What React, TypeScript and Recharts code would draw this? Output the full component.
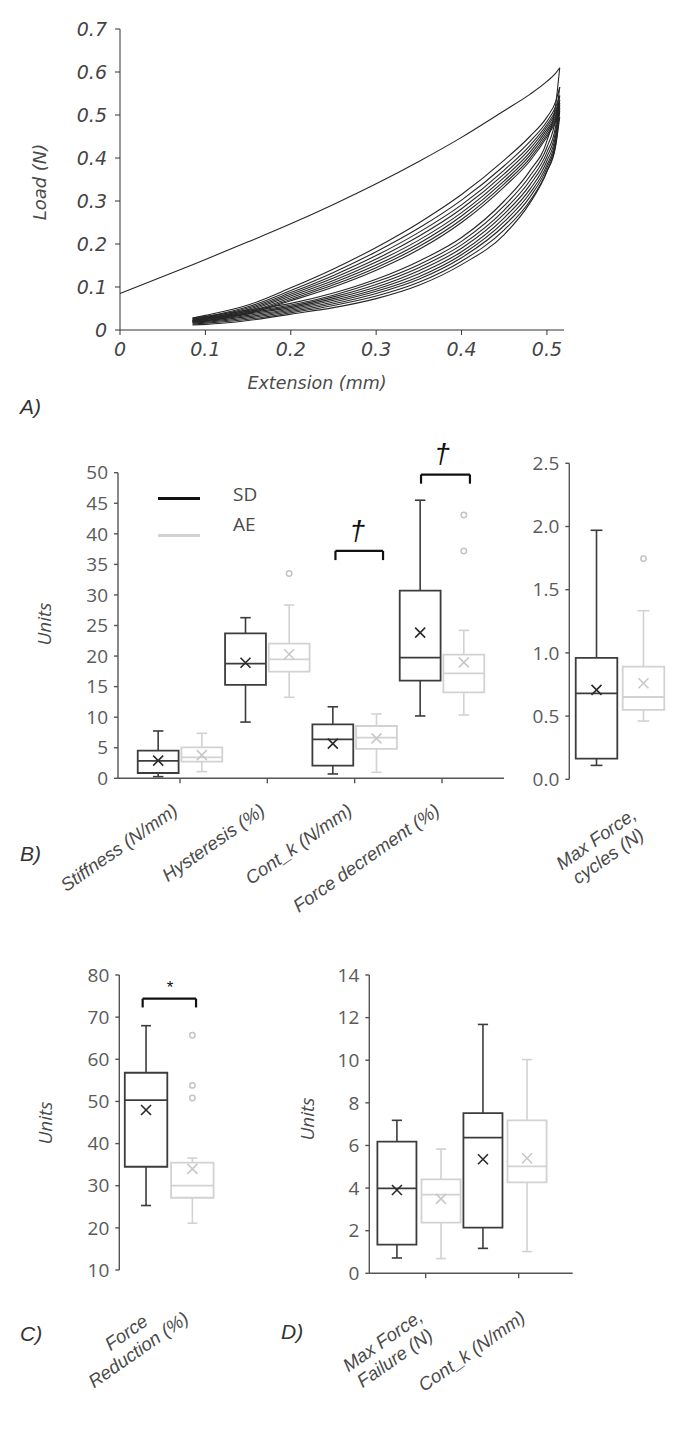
import React from "react";
import {
  LineChart, Line, ScatterChart, Scatter, XAxis, YAxis,
  ReferenceArea, ReferenceLine, ReferenceDot,
} from "recharts";

// ---------- A) load vs extension, cyclic test ----------
const EXT = [0, 0.085, 0.1, 0.15, 0.2, 0.25, 0.3, 0.35, 0.4, 0.45, 0.48, 0.5, 0.51, 0.515];
const EXT_TICKS = [0, 0.1, 0.2, 0.3, 0.4, 0.5];
const LOAD_TICKS = [0, 0.1, 0.2, 0.3, 0.4, 0.5, 0.6, 0.7];
// first loading ramp starts at zero extension
const FIRST_LOADING = [0.085, 0.152, 0.164, 0.205, 0.247, 0.292, 0.34, 0.392, 0.448, 0.51, 0.548, 0.578, 0.597, 0.61];
// later cycles, from 0.085 mm onward
const LOADING = [
  [0.028, 0.034, 0.058, 0.098, 0.142, 0.192, 0.249, 0.315, 0.395, 0.450, 0.495, 0.530, 0.565],
  [0.026, 0.031, 0.054, 0.092, 0.134, 0.182, 0.237, 0.302, 0.382, 0.438, 0.485, 0.518, 0.545],
  [0.024, 0.029, 0.051, 0.087, 0.127, 0.173, 0.227, 0.291, 0.372, 0.429, 0.478, 0.510, 0.535],
  [0.022, 0.027, 0.048, 0.083, 0.121, 0.165, 0.218, 0.282, 0.363, 0.421, 0.472, 0.504, 0.528],
  [0.021, 0.025, 0.045, 0.079, 0.115, 0.158, 0.209, 0.273, 0.355, 0.413, 0.466, 0.498, 0.522],
  [0.020, 0.024, 0.042, 0.075, 0.110, 0.151, 0.201, 0.265, 0.347, 0.406, 0.460, 0.493, 0.516],
  [0.019, 0.022, 0.040, 0.071, 0.105, 0.145, 0.194, 0.257, 0.340, 0.399, 0.454, 0.488, 0.510],
  [0.018, 0.021, 0.038, 0.068, 0.100, 0.139, 0.187, 0.250, 0.333, 0.393, 0.449, 0.483, 0.505],
];
const UNLOADING = [
  [0.028, 0.032, 0.046, 0.062, 0.086, 0.118, 0.160, 0.215, 0.300, 0.370, 0.440, 0.520, 0.610],
  [0.026, 0.029, 0.043, 0.058, 0.081, 0.112, 0.152, 0.206, 0.289, 0.358, 0.425, 0.490, 0.565],
  [0.024, 0.027, 0.040, 0.055, 0.077, 0.106, 0.145, 0.198, 0.279, 0.347, 0.413, 0.472, 0.545],
  [0.022, 0.025, 0.037, 0.052, 0.073, 0.100, 0.138, 0.190, 0.270, 0.337, 0.403, 0.460, 0.535],
  [0.020, 0.022, 0.034, 0.049, 0.069, 0.095, 0.131, 0.182, 0.261, 0.327, 0.393, 0.450, 0.528],
  [0.018, 0.020, 0.031, 0.046, 0.065, 0.090, 0.124, 0.175, 0.252, 0.318, 0.384, 0.441, 0.522],
  [0.016, 0.018, 0.028, 0.043, 0.061, 0.085, 0.118, 0.168, 0.243, 0.309, 0.377, 0.434, 0.516],
  [0.014, 0.016, 0.025, 0.040, 0.057, 0.079, 0.111, 0.160, 0.233, 0.300, 0.370, 0.428, 0.510],
  [0.012, 0.013, 0.022, 0.037, 0.052, 0.073, 0.104, 0.152, 0.222, 0.295, 0.368, 0.425, 0.495],
];

// ---------- B) cyclic parameters ----------
const B_LABELS = [["Stiffness (N/mm)"], ["Hysteresis (%)"], ["Cont_k (N/mm)"], ["Force decrement (%)"]];
const B_TICKS = [0, 5, 10, 15, 20, 25, 30, 35, 40, 45, 50];
const B_SD_MIN = [0.27, 9.2, 0.71, 10.2];
const B_SD_Q1 = [0.87, 15.27, 2.07, 15.98];
const B_SD_MED = [2.84, 18.76, 6.38, 19.74];
const B_SD_Q3 = [4.53, 23.72, 8.83, 30.7];
const B_SD_MAX = [7.74, 26.28, 11.7, 45.5];
const B_SD_MEAN = [2.9, 18.9, 5.67, 23.83];
const B_AE_MIN = [1.09, 13.25, 0.98, 10.36];
const B_AE_Q1 = [2.73, 17.45, 4.8, 14.07];
const B_AE_MED = [3.43, 19.47, 6.65, 17.18];
const B_AE_Q3 = [5.07, 22.03, 8.56, 20.23];
const B_AE_MAX = [7.36, 28.35, 10.52, 24.2];
const B_AE_MEAN = [3.8, 20.3, 6.54, 18.97];
const B_AE_OUT = [[], [33.5], [], [43.07, 37.19]];

const CYC_LABELS = [["Max Force,", "cycles (N)"]];
const CYC_TICKS = [0, 0.5, 1, 1.5, 2, 2.5];
const CYC_SD = { min: [0.11], q1: [0.164], med: [0.68], q3: [0.96], max: [1.97], mean: [0.707], out: [[]] };
const CYC_AE = { min: [0.461], q1: [0.549], med: [0.651], q3: [0.891], max: [1.334], mean: [0.76], out: [[1.746]] };

// ---------- C) force reduction ----------
const C_LABELS = [["Force", "Reduction (%)"]];
const C_TICKS = [10, 20, 30, 40, 50, 60, 70, 80];
const C_SD = { min: [25.3], q1: [34.5], med: [50.3], q3: [56.8], max: [67.97], mean: [47.96], out: [[]] };
const C_AE = { min: [21.1], q1: [27.15], med: [30.0], q3: [35.5], max: [36.57], mean: [34.0], out: [[65.7, 53.8, 50.8]] };

// ---------- D) failure test ----------
const D_LABELS = [["Max Force,", "Failure (N)"], ["Cont_k (N/mm)"]];
const D_TICKS = [0, 2, 4, 6, 8, 10, 12, 14];
const D_SD_MIN = [0.72, 1.17];
const D_SD_Q1 = [1.35, 2.14];
const D_SD_MED = [3.99, 6.37];
const D_SD_Q3 = [6.18, 7.52];
const D_SD_MAX = [7.18, 11.68];
const D_SD_MEAN = [3.91, 5.35];
const D_AE_MIN = [0.69, 1.02];
const D_AE_Q1 = [2.38, 4.27];
const D_AE_MED = [3.69, 5.02];
const D_AE_Q3 = [4.41, 7.18];
const D_AE_MAX = [5.83, 10.03];
const D_AE_MEAN = [3.49, 5.4];

const SD_COLOR = "#3c3c3c";
const AE_COLOR = "#d2d2d2";
const TXT = "#4a4a4a";
const NUM_FONT = "'Open Sans', sans-serif";
const IT_FONT = "'Liberation Sans', Arial, sans-serif";
const A_FONT = "'DejaVu Sans', sans-serif";

type Stats = { min: number[]; q1: number[]; med: number[]; q3: number[]; max: number[]; mean: number[]; out: number[][] };

const B_SD: Stats = { min: B_SD_MIN, q1: B_SD_Q1, med: B_SD_MED, q3: B_SD_Q3, max: B_SD_MAX, mean: B_SD_MEAN, out: [[], [], [], []] };
const B_AE: Stats = { min: B_AE_MIN, q1: B_AE_Q1, med: B_AE_MED, q3: B_AE_Q3, max: B_AE_MAX, mean: B_AE_MEAN, out: B_AE_OUT };
const D_SD: Stats = { min: D_SD_MIN, q1: D_SD_Q1, med: D_SD_MED, q3: D_SD_Q3, max: D_SD_MAX, mean: D_SD_MEAN, out: [[], []] };
const D_AE: Stats = { min: D_AE_MIN, q1: D_AE_Q1, med: D_AE_MED, q3: D_AE_Q3, max: D_AE_MAX, mean: D_AE_MEAN, out: [[], []] };

const loopRows = EXT.map((x, i) => {
  const row: Record<string, number | null> = { x, first: FIRST_LOADING[i] };
  LOADING.forEach((c, k) => { row[`l${k}`] = i === 0 ? null : c[i - 1]; });
  UNLOADING.forEach((c, k) => { row[`u${k}`] = i === 0 ? null : c[i - 1]; });
  return row;
});
const loopKeys = ["first", ...LOADING.map((_, k) => `l${k}`), ...UNLOADING.map((_, k) => `u${k}`)];

type TickPos = { dx: number; dy: number; anchor: "end" | "middle" };

const makeTick = (labels: string[][], pos: TickPos[]) => (props: any) => {
  const { x, y, payload } = props;
  const i = Math.round(payload.value);
  const lines = labels[i];
  const p = pos[i];
  if (!lines) return null;
  const ax = x + p.dx;
  const ay = y + p.dy;
  const lh = 21;
  const y0 = ay - ((lines.length - 1) * lh) / 2;
  return (
    <text transform={`rotate(-35 ${ax} ${ay})`} textAnchor={p.anchor} fontFamily={IT_FONT}
      fontStyle="italic" fontSize={18.5} fill={TXT}>
      {lines.map((l, k) => (
        <tspan key={k} x={ax} y={lines.length > 1 ? y0 + k * lh : ay}
          dominantBaseline={lines.length > 1 ? "central" : "auto"}>{l}</tspan>
      ))}
    </text>
  );
};

const xMark = (color: string) => (p: any) => {
  const s = 5;
  return (
    <path d={`M${p.cx - s},${p.cy - s}L${p.cx + s},${p.cy + s}M${p.cx - s},${p.cy + s}L${p.cx + s},${p.cy - s}`}
      stroke={color} strokeWidth={1.6} fill="none" />
  );
};
const ring = (color: string) => (p: any) => (
  <circle cx={p.cx} cy={p.cy} r={2.7} stroke={color} strokeWidth={1.5} fill="none" />
);

function boxMarks(id: string, centers: number[], shift: number, halfW: number, cap: number, s: Stats, color: string) {
  const els: React.ReactNode[] = [];
  centers.forEach((c, i) => {
    const x = c + shift;
    const seg = (k: string, a: [number, number], b: [number, number], w = 1.6) =>
      els.push(<ReferenceLine key={`${id}${k}${i}`} segment={[{ x: a[0], y: a[1] }, { x: b[0], y: b[1] }]}
        stroke={color} strokeWidth={w} ifOverflow="visible" />);
    seg("wu", [x, s.q3[i]], [x, s.max[i]]);
    seg("wd", [x, s.min[i]], [x, s.q1[i]]);
    seg("cu", [x - cap, s.max[i]], [x + cap, s.max[i]]);
    seg("cd", [x - cap, s.min[i]], [x + cap, s.min[i]]);
    els.push(<ReferenceArea key={`${id}box${i}`} x1={x - halfW} x2={x + halfW} y1={s.q1[i]} y2={s.q3[i]}
      fill="none" fillOpacity={0} stroke={color} strokeWidth={1.8} ifOverflow="visible" />);
    seg("md", [x - halfW, s.med[i]], [x + halfW, s.med[i]], 1.8);
  });
  return els;
}

function bracket(id: string, x1: number, x2: number, top: number, foot: number) {
  return [
    <ReferenceLine key={`${id}a`} segment={[{ x: x1, y: foot }, { x: x1, y: top }]} stroke="#111" strokeWidth={2.2} ifOverflow="visible" />,
    <ReferenceLine key={`${id}b`} segment={[{ x: x1, y: top }, { x: x2, y: top }]} stroke="#111" strokeWidth={2.2} ifOverflow="visible" />,
    <ReferenceLine key={`${id}c`} segment={[{ x: x2, y: top }, { x: x2, y: foot }]} stroke="#111" strokeWidth={2.2} ifOverflow="visible" />,
  ];
}

function sigMark(id: string, x: number, y: number, glyph: string, size: number) {
  return (
    <ReferenceDot key={id} x={x} y={y} r={0} ifOverflow="visible"
      shape={(p: any) => (
        <text x={p.cx} y={p.cy} textAnchor="middle" dominantBaseline="central" fontFamily={IT_FONT}
          fontStyle="italic" fontSize={size} fill="#111">{glyph}</text>
      )} />
  );
}

type BoxPanelProps = {
  left: number; top: number; width: number; height: number;
  marginTop: number; marginRight: number; yWidth: number; xHeight: number;
  xDomain: [number, number]; xTicks: number[]; xLine: boolean;
  yDomain: [number, number]; yTicks: number[]; yFmt?: (v: number) => string;
  centers: number[]; shift: number; halfW: number; cap: number;
  sd: Stats; ae: Stats; tick: (p: any) => any; extra?: React.ReactNode[];
};

function BoxPanel(p: BoxPanelProps) {
  const sdMeans = p.centers.map((c, i) => ({ x: c - p.shift, y: p.sd.mean[i] }));
  const aeMeans = p.centers.map((c, i) => ({ x: c + p.shift, y: p.ae.mean[i] }));
  const aeOut = p.centers.flatMap((c, i) => p.ae.out[i].map((v) => ({ x: c + p.shift, y: v })));
  const axisStyle = { stroke: "#555", strokeWidth: 1.4 };
  return (
    <div style={{ position: "absolute", left: p.left, top: p.top }}>
      <ScatterChart width={p.width} height={p.height}
        margin={{ top: p.marginTop, right: p.marginRight, left: 0, bottom: 0 }}>
        <XAxis type="number" dataKey="x" domain={p.xDomain} ticks={p.xTicks} interval={0}
          axisLine={p.xLine ? axisStyle : false} tickLine={p.xLine ? axisStyle : false}
          tickSize={5} height={p.xHeight} tick={p.tick} />
        <YAxis type="number" dataKey="y" domain={p.yDomain} ticks={p.yTicks} interval={0} width={p.yWidth}
          axisLine={axisStyle} tickLine={axisStyle} tickSize={4} tickMargin={6}
          tickFormatter={p.yFmt} tick={{ fill: "#5a5a5a", fontSize: 19, fontFamily: NUM_FONT }} />
        {boxMarks("sd", p.centers, -p.shift, p.halfW, p.cap, p.sd, SD_COLOR)}
        {boxMarks("ae", p.centers, p.shift, p.halfW, p.cap, p.ae, AE_COLOR)}
        <Scatter data={sdMeans} shape={xMark("#2a2a2a")} isAnimationActive={false} />
        <Scatter data={aeMeans} shape={xMark("#c8c8c8")} isAnimationActive={false} />
        <Scatter data={aeOut} shape={ring("#c4c4c4")} isAnimationActive={false} />
        {p.extra}
      </ScatterChart>
    </div>
  );
}

const abs = (left: number, top: number, extra: React.CSSProperties = {}): React.CSSProperties => ({
  position: "absolute", left, top, whiteSpace: "nowrap", lineHeight: 1, ...extra,
});

function VLabel({ cx, cy, text, font, size }: { cx: number; cy: number; text: string; font: string; size: number }) {
  return (
    <div style={abs(cx, cy, {
      transform: "translate(-50%, -50%) rotate(-90deg)", fontFamily: font, fontStyle: "italic",
      fontSize: size, color: TXT,
    })}>{text}</div>
  );
}

function PanelTag({ x, y, text }: { x: number; y: number; text: string }) {
  return <div style={abs(x, y, { fontFamily: IT_FONT, fontStyle: "italic", fontSize: 21, color: "#333" })}>{text}</div>;
}

const fmtLoad = (v: number) => (v === 0 ? "0" : v.toFixed(1));

export default function App() {
  const aTick = { fill: "#444", fontSize: 19, fontStyle: "italic", fontFamily: A_FONT };
  return (
    <div style={{ position: "absolute", left: 0, top: 0, width: 685, height: 1429, background: "#fff" }}>
      {/* A */}
      <div style={{ position: "absolute", left: 0, top: 0 }}>
        <LineChart width={600} height={400} data={loopRows} margin={{ top: 29, right: 36, left: 0, bottom: 0 }}>
          <XAxis type="number" dataKey="x" domain={[0, 0.52]} ticks={EXT_TICKS} interval={0} tickFormatter={fmtLoad}
            height={70} tickSize={5} tickMargin={8} axisLine={{ stroke: "#333" }} tickLine={{ stroke: "#333" }} tick={aTick} />
          <YAxis type="number" domain={[0, 0.7]} ticks={LOAD_TICKS} interval={0} tickFormatter={fmtLoad} width={120}
            tickSize={5} tickMargin={8} axisLine={{ stroke: "#333" }} tickLine={{ stroke: "#333" }} tick={aTick} />
          {loopKeys.map((k) => (
            <Line key={k} dataKey={k} type="monotone" stroke="#262626" strokeWidth={1.1} dot={false}
              isAnimationActive={false} />
          ))}
        </LineChart>
      </div>
      <VLabel cx={40} cy={182} text="Load (N)" font={A_FONT} size={18} />
      <div style={abs(317, 384, { transform: "translate(-50%, -50%)", fontFamily: A_FONT, fontStyle: "italic", fontSize: 17.5, color: TXT })}>
        Extension (mm)
      </div>
      <PanelTag x={20} y={396} text="A)" />

      {/* B main */}
      <BoxPanel left={0} top={400} width={520} height={540} marginTop={72.7} marginRight={16} yWidth={118} xHeight={161.7}
        xDomain={[-0.71, 3.71]} xTicks={[0, 1, 2, 3]} xLine yDomain={[0, 50]} yTicks={B_TICKS}
        centers={[0, 1, 2, 3]} shift={0.25} halfW={0.234} cap={0.06} sd={B_SD} ae={B_AE}
        tick={makeTick(B_LABELS, B_LABELS.map(() => ({ dx: -1, dy: 28, anchor: "end" as const })))}
        extra={[
          ...bracket("br3", 1.78, 2.325, 37.2, 35.7),
          ...bracket("br4", 2.76, 3.32, 49.7, 48.2),
          sigMark("d3", 2.03, 40.6, "\u2020", 28),
          sigMark("d4", 3.0, 53.2, "\u2020", 28),
        ]} />
      <div style={{ position: "absolute", left: 158, top: 497, width: 42, height: 2.5, background: "#111" }} />
      <div style={{ position: "absolute", left: 158, top: 534, width: 42, height: 2.5, background: AE_COLOR }} />
      <div style={abs(233, 494, { transform: "translateY(-50%)", fontFamily: NUM_FONT, fontSize: 19, color: TXT })}>SD</div>
      <div style={abs(233, 524, { transform: "translateY(-50%)", fontFamily: NUM_FONT, fontSize: 19, color: TXT })}>AE</div>
      <VLabel cx={44} cy={624} text="Units" font={NUM_FONT} size={19} />

      {/* B right: max force over cycles */}
      <BoxPanel left={520} top={400} width={165} height={540} marginTop={63.3} marginRight={14.3} yWidth={49.3} xHeight={160.7}
        xDomain={[-0.6, 0.6]} xTicks={[0]} xLine={false} yDomain={[0, 2.5]} yTicks={CYC_TICKS}
        yFmt={(v) => v.toFixed(1)} centers={[0]} shift={0.278} halfW={0.246} cap={0.07} sd={CYC_SD} ae={CYC_AE}
        tick={makeTick(CYC_LABELS, [{ dx: -18, dy: 61, anchor: "middle" }])} />
      <PanelTag x={20} y={843} text="B)" />

      {/* C */}
      <BoxPanel left={0} top={900} width={250} height={529} marginTop={75} marginRight={30.9} yWidth={119.3} xHeight={159}
        xDomain={[-0.5, 0.5]} xTicks={[0]} xLine={false} yDomain={[10, 80]} yTicks={C_TICKS}
        centers={[0]} shift={0.232} halfW={0.213} cap={0.05} sd={C_SD} ae={C_AE}
        tick={makeTick(C_LABELS, [{ dx: -37, dy: 64, anchor: "middle" }])}
        extra={[...bracket("brc", -0.266, 0.269, 74.4, 72.3), sigMark("ast", 0, 77, "*", 17)]} />
      <VLabel cx={45} cy={1123} text="Units" font={NUM_FONT} size={19} />
      <PanelTag x={20} y={1323} text="C)" />

      {/* D */}
      <BoxPanel left={250} top={900} width={435} height={529} marginTop={75} marginRight={112.3} yWidth={119.3} xHeight={155.7}
        xDomain={[-0.606, 1.581]} xTicks={[0, 1]} xLine yDomain={[0, 14]} yTicks={D_TICKS}
        centers={[-0.072, 0.853]} shift={0.237} halfW={0.21} cap={0.055} sd={D_SD} ae={D_AE}
        tick={makeTick(D_LABELS, [{ dx: -37, dy: 69, anchor: "middle" }, { dx: 8, dy: 40, anchor: "end" }])} />
      <VLabel cx={307} cy={1119} text="Units" font={NUM_FONT} size={19} />
      <PanelTag x={281} y={1321} text="D)" />
    </div>
  );
}
